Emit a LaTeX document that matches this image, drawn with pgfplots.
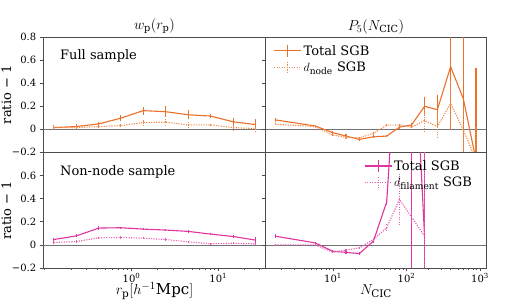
\documentclass[border=0pt]{standalone}
\usepackage{pgfplots}
\pgfplotsset{compat=1.18}
\usepackage{fontspec}
\setmainfont{DejaVu Serif}
\definecolor{cor}{RGB}{235,112,40}
\definecolor{cpk}{RGB}{224,52,160}
\definecolor{corl}{RGB}{240,140,75}
\definecolor{cpkl}{RGB}{230,95,180}
\begin{document}
\begin{tikzpicture}
\useasboundingbox (0pt,0pt) rectangle (509pt,307pt);

% top left
\begin{axis}[scale only axis, xmode=log, ymin=-0.2, ymax=0.8,
  width=222.4pt, xmin=0.096, xmax=35.2, height=115pt, at={(43.3pt,154.7pt)}, anchor=south west,
  axis line style={draw=black!70, line width=0.8pt},
  tick style={black!70, line width=0.7pt},
  major tick length=3.5pt, minor tick length=2pt, tick align=outside,
  ytick={-0.2,0,0.2,0.4,0.6,0.8}, ytick pos=left,
  yticklabels={−0.2,0,0.2,0.4,0.6,0.8},
  tick label style={font=\fontsize{10}{12}\selectfont},
  xmajorticks=false, xminorticks=false,
  title={$w_{\rm p}(r_{\rm p})$},
  title style={font=\fontsize{14}{16}\selectfont, yshift=-6pt},
  ylabel={ratio − 1},
  every axis y label/.style={at={(rel axis cs:0,0.5)}, xshift=-37pt, rotate=90, anchor=center, font=\fontsize{13}{15}\selectfont}]
\draw[black!55, line width=0.7pt] (rel axis cs:0,0.2) -- (rel axis cs:1,0.2);
\addplot[cor, line width=1.1pt, error bars/.cd, y dir=both, y explicit, error mark=none, error bar style={cor, line width=1.1pt}]
 table[x index=0, y index=1, y error index=2] {
0.127 0.015 0.02
0.232 0.024 0.02
0.42 0.047 0.02
0.753 0.097 0.025
1.36 0.162 0.035
2.47 0.153 0.047
4.54 0.126 0.04
8.15 0.115 0.02
14.9 0.065 0.035
26.9 0.041 0.05
};
\addplot[corl, line width=1.1pt, dash pattern=on 1.2pt off 1.3pt, error bars/.cd, y dir=both, y explicit, error mark=none, error bar style={corl, line width=1.1pt, dash pattern=on 1.2pt off 1.3pt}]
 table[x index=0, y index=1, y error index=2] {
0.127 0.015 0.015
0.232 0.015 0.015
0.42 0.024 0.015
0.753 0.032 0.02
1.36 0.059 0.025
2.47 0.062 0.03
4.54 0.038 0.025
8.15 0.038 0.015
14.9 0.015 0.025
26.9 0.006 0.03
};
\node[anchor=west, font=\fontsize{13}{15}\selectfont] at (rel axis cs:0.06,0.84) {Full sample};
\end{axis}

% bottom left
\begin{axis}[scale only axis, xmode=log, ymin=-0.2, ymax=0.8,
  width=222.4pt, xmin=0.096, xmax=35.2, height=115.7pt, at={(43.3pt,39pt)}, anchor=south west,
  axis line style={draw=black!70, line width=0.8pt},
  tick style={black!70, line width=0.7pt},
  major tick length=3.5pt, minor tick length=2pt, tick align=outside,
  ytick={-0.2,0,0.2,0.4,0.6}, ytick pos=left,
  yticklabels={−0.2,0,0.2,0.4,0.6},
  xtick pos=bottom,
  xtick={1,10}, xticklabels={10\textsuperscript{0},10\textsuperscript{1}},
  minor xtick={0.1,0.2,0.3,0.4,0.5,0.6,0.7,0.8,0.9,2,3,4,5,6,7,8,9,20,30},
  tick label style={font=\fontsize{10}{12}\selectfont},
  xticklabel style={yshift=1.5pt},
  ylabel={ratio − 1},
  every axis y label/.style={at={(rel axis cs:0,0.5)}, xshift=-37pt, rotate=90, anchor=center, font=\fontsize{13}{15}\selectfont},
  xlabel={$r_{\rm p}[h^{-1}{\rm Mpc}]$},
  every axis x label/.style={at={(rel axis cs:0.5,0)}, yshift=-23pt, anchor=center, font=\fontsize{15}{17}\selectfont}]
\draw[black!55, line width=0.7pt] (rel axis cs:0,0.2) -- (rel axis cs:1,0.2);
\addplot[cpk, line width=1.1pt, error bars/.cd, y dir=both, y explicit, error mark=none, error bar style={cpk, line width=1.1pt}]
 table[x index=0, y index=1, y error index=2] {
0.127 0.046 0.015
0.232 0.078 0.012
0.42 0.145 0.015
0.753 0.148 0.01
1.36 0.136 0.01
2.47 0.128 0.01
4.54 0.116 0.012
8.15 0.093 0.012
14.9 0.072 0.015
26.9 0.041 0.025
};
\addplot[cpkl, line width=1.1pt, dash pattern=on 1.2pt off 1.3pt, error bars/.cd, y dir=both, y explicit, error mark=none, error bar style={cpkl, line width=1.1pt, dash pattern=on 1.2pt off 1.3pt}]
 table[x index=0, y index=1, y error index=2] {
0.127 0.020 0.01
0.232 0.029 0.01
0.42 0.061 0.01
0.753 0.064 0.01
1.36 0.058 0.01
2.47 0.046 0.01
4.54 0.026 0.01
8.15 0.009 0.01
14.9 0.014 0.01
26.9 0.009 0.015
};
\node[anchor=west, font=\fontsize{13}{15}\selectfont] at (rel axis cs:0.06,0.83) {Non-node sample};
\end{axis}

% top right
\begin{axis}[scale only axis, xmode=log, ymin=-0.2, ymax=0.8,
  width=220.6pt, xmin=1.21, xmax=1218, height=115pt, at={(265.7pt,154.7pt)}, anchor=south west,
  axis line style={draw=black!70, line width=0.8pt},
  tick style={black!70, line width=0.7pt},
  major tick length=3.5pt, minor tick length=2pt, tick align=outside,
  ytick={-0.2,0,0.2,0.4,0.6,0.8}, ytick pos=left, yticklabels={},
  xmajorticks=false, xminorticks=false,
  title={$P_5(N_{\rm CIC})$},
  title style={font=\fontsize{14}{16}\selectfont, yshift=-6pt},
  legend style={draw=none, fill=none, font=\fontsize{13}{15}\selectfont, row sep=1pt, inner sep=0pt, at={(0.035,0.95)}, anchor=north west},
  legend cell align=left]
\draw[black!55, line width=0.7pt] (rel axis cs:0,0.2) -- (rel axis cs:1,0.2);
\addlegendimage{legend image code/.code={\draw[cor, line width=1.1pt] (0pt,0pt)--(27pt,0pt); \draw[cor, line width=1.1pt] (13.5pt,-6pt)--(13.5pt,6pt);}}
\addlegendentry{Total SGB}
\addlegendimage{legend image code/.code={\draw[corl, line width=1.1pt, dash pattern=on 1.2pt off 1.3pt] (0pt,0pt)--(27pt,0pt); \draw[corl, line width=1.1pt, dash pattern=on 1.2pt off 1.3pt] (13.5pt,-6pt)--(13.5pt,6pt);}}
\addlegendentry{$d_{\rm node}$ SGB}
\addplot[cor, line width=1.1pt, forget plot, error bars/.cd, y dir=both, y explicit, error mark=none, error bar style={cor, line width=1.1pt}]
 table[x index=0, y index=1, y error index=2] {
1.63 0.082 0.02
5.7 0.029 0.01
9.9 -0.029 0.015
15 -0.059 0.015
22.8 -0.088 0.012
35.4 -0.065 0.012
53.7 -0.059 0.012
80 0.018 0.015
117 0.038 0.02
176 0.2 0.08
263 0.171 0.13
398 0.544 0.55
593 0.265 1.5
883 -0.27 0.8
};
\addplot[corl, line width=1.1pt, forget plot, dash pattern=on 1.2pt off 1.3pt, error bars/.cd, y dir=both, y explicit, error mark=none, error bar style={corl, line width=1.1pt, dash pattern=on 1.2pt off 1.3pt}]
 table[x index=0, y index=1, y error index=2] {
1.63 0.044 0.015
5.7 0.024 0.01
9.9 -0.05 0.015
15 -0.071 0.015
22.8 -0.074 0.012
35.4 -0.035 0.012
53.7 0.035 0.015
80 0.038 0.02
117 0.018 0.02
176 0.076 0.1
263 0.024 0.1
398 0.224 0.2
593 -0.006 0.2
883 -0.27 0.3
};
\end{axis}

% bottom right
\begin{axis}[scale only axis, xmode=log, ymin=-0.2, ymax=0.8,
  width=220.6pt, xmin=1.21, xmax=1218, height=115.7pt, at={(265.7pt,39pt)}, anchor=south west,
  axis line style={draw=black!70, line width=0.8pt},
  tick style={black!70, line width=0.7pt},
  major tick length=3.5pt, minor tick length=2pt, tick align=outside,
  ytick={-0.2,0,0.2,0.4,0.6}, ytick pos=left, yticklabels={},
  xtick pos=bottom,
  xtick={10,100,1000}, xticklabels={10\textsuperscript{1},10\textsuperscript{2},10\textsuperscript{3}},
  minor xtick={2,3,4,5,6,7,8,9,20,30,40,50,60,70,80,90,200,300,400,500,600,700,800,900},
  tick label style={font=\fontsize{10}{12}\selectfont},
  xticklabel style={yshift=1.5pt},
  xlabel={$N_{\rm CIC}$},
  every axis x label/.style={at={(rel axis cs:0.5,0)}, yshift=-23pt, anchor=center, font=\fontsize{15}{17}\selectfont},
  legend style={draw=none, fill=none, font=\fontsize{13}{15}\selectfont, row sep=1pt, inner sep=0pt, at={(0.445,0.95)}, anchor=north west},
  legend cell align=left]
\draw[black!55, line width=0.7pt] (rel axis cs:0,0.2) -- (rel axis cs:1,0.2);
\addlegendimage{legend image code/.code={\draw[cpk, line width=1.1pt] (0pt,0pt)--(27pt,0pt); \draw[cpk, line width=1.1pt] (13.5pt,-6pt)--(13.5pt,6pt);}}
\addlegendentry{Total SGB}
\addlegendimage{legend image code/.code={\draw[cpkl, line width=1.1pt, dash pattern=on 1.2pt off 1.3pt] (0pt,0pt)--(27pt,0pt); \draw[cpkl, line width=1.1pt, dash pattern=on 1.2pt off 1.3pt] (13.5pt,-6pt)--(13.5pt,6pt);}}
\addlegendentry{$d_{\rm filament}$ SGB}
\addplot[cpk, line width=1.1pt, forget plot, error bars/.cd, y dir=both, y explicit, error mark=none, error bar style={cpk, line width=1.1pt}]
 table[x index=0, y index=1, y error index=2] {
1.63 0.075 0.02
5.7 0.017 0.01
9.9 -0.055 0.01
15 -0.065 0.01
22.8 -0.075 0.01
35.4 0.032 0.015
53.7 0.371 0.025
80 2.1 0.3
117 2.3 3
176 0.07 2
};
\addplot[cpkl, line width=1.1pt, forget plot, dash pattern=on 1.2pt off 1.3pt, error bars/.cd, y dir=both, y explicit, error mark=none, error bar style={cpkl, line width=1.1pt, dash pattern=on 1.2pt off 1.3pt}]
 table[x index=0, y index=1, y error index=2] {
1.63 0.0 0.01
5.7 0.0 0.01
9.9 -0.064 0.01
15 -0.045 0.01
22.8 -0.026 0.01
35.4 0.046 0.015
53.7 0.148 0.03
80 0.394 0.22
117 0.24 0.05
176 0.075 1.5
};
\end{axis}
\end{tikzpicture}
\end{document}
